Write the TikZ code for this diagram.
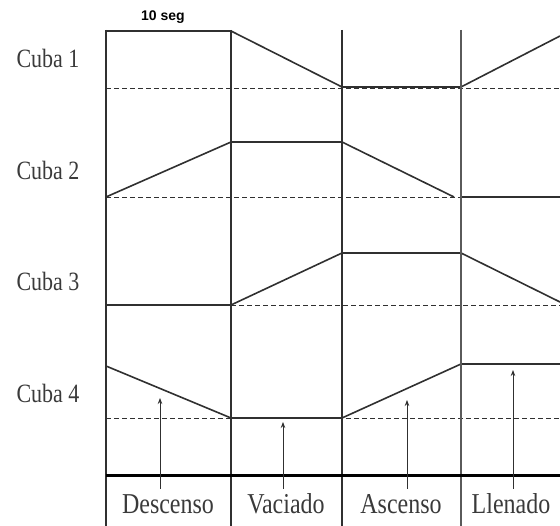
\documentclass[tikz,border=0pt]{standalone}
\usepackage{fontspec}
\usepackage{graphicx}
\setmainfont{Liberation Serif}
\newfontfamily\segfont{Liberation Sans}
\usetikzlibrary{positioning, arrows.meta}
\definecolor{lngray}{HTML}{303030}
\definecolor{txgray}{HTML}{3A3A3A}
\newcommand{\tall}[1]{\scalebox{1}[1.2]{#1}}

\begin{document}
\begin{tikzpicture}[x=1pt, y=-1pt, font=\fontsize{22}{26}\selectfont,
    level/.style={lngray, line width=1.6pt, line join=round},
    refline/.style={lngray, line width=0.9pt, dash pattern=on 5pt off 3pt},
    colline/.style={lngray, line width=1.5pt},
    phase/.style={txgray, font=\fontsize{24}{28}\selectfont, anchor=base, text height=19pt, text depth=0pt, inner ysep=6pt},
    pointer/.style={lngray, line width=0.8pt, -{Stealth[length=6pt, width=4.5pt]}}]
    \useasboundingbox (0,0) rectangle (560,526);

    \node[txgray] (cuba1) at (48,58) {\tall{Cuba 1}};
    \node[txgray] (cuba2) at (48,170) {\tall{Cuba 2}};
    \node[txgray] (cuba3) at (48,281) {\tall{Cuba 3}};
    \node[txgray] (cuba4) at (48,393) {\tall{Cuba 4}};
    \node[font=\segfont\bfseries\fontsize{14}{16}\selectfont] (seg) at (163,17) {10 seg};

    \draw[refline] (106,88) -- (560,88);
    \draw[refline] (106,197) -- (461,197);
    \draw[refline] (231,305) -- (560,305);
    \draw[refline] (106,418) -- (560,418);

    \draw[level] (106,31) -- (231,31) -- (342,87) -- (461,87) -- (560,36);
    \draw[level] (106,197) -- (231,142) -- (342,142) -- (454,197);
    \draw[level] (461,197) -- (560,197);
    \draw[level] (106,305) -- (231,305) -- (342,253) -- (461,253) -- (560,302);
    \draw[level] (106,366) -- (231,418) -- (342,418) -- (461,364) -- (560,364);

    \draw[colline, line width=2.4pt] (106,30) -- (106,526);
    \draw[colline] (231,30) -- (231,526);
    \draw[colline] (342,30) -- (342,526);
    \draw[colline, line width=1.1pt, lngray!80] (461,30) -- (461,526);
    \draw[black, line width=3pt] (106,476) -- (560,476);

    \node[phase] (desc) at (168,514) {\tall{Descenso}};
    \node[phase] (vac) at (286,514) {\tall{Vaciado}};
    \node[phase] (asc) at (401,514) {\tall{Ascenso}};
    \node[phase] (llen) at (511,514) {\tall{Llenado}};

    \coordinate (tipdesc) at (160,398);
    \coordinate (tipvac) at (283,422);
    \coordinate (tipasc) at (407,400);
    \coordinate (tipllen) at (513,370);
    \draw[pointer] (desc.north -| tipdesc) -- (tipdesc);
    \draw[pointer] (vac.north -| tipvac) -- (tipvac);
    \draw[pointer] (asc.north -| tipasc) -- (tipasc);
    \draw[pointer] (llen.north -| tipllen) -- (tipllen);
\end{tikzpicture}
\end{document}
